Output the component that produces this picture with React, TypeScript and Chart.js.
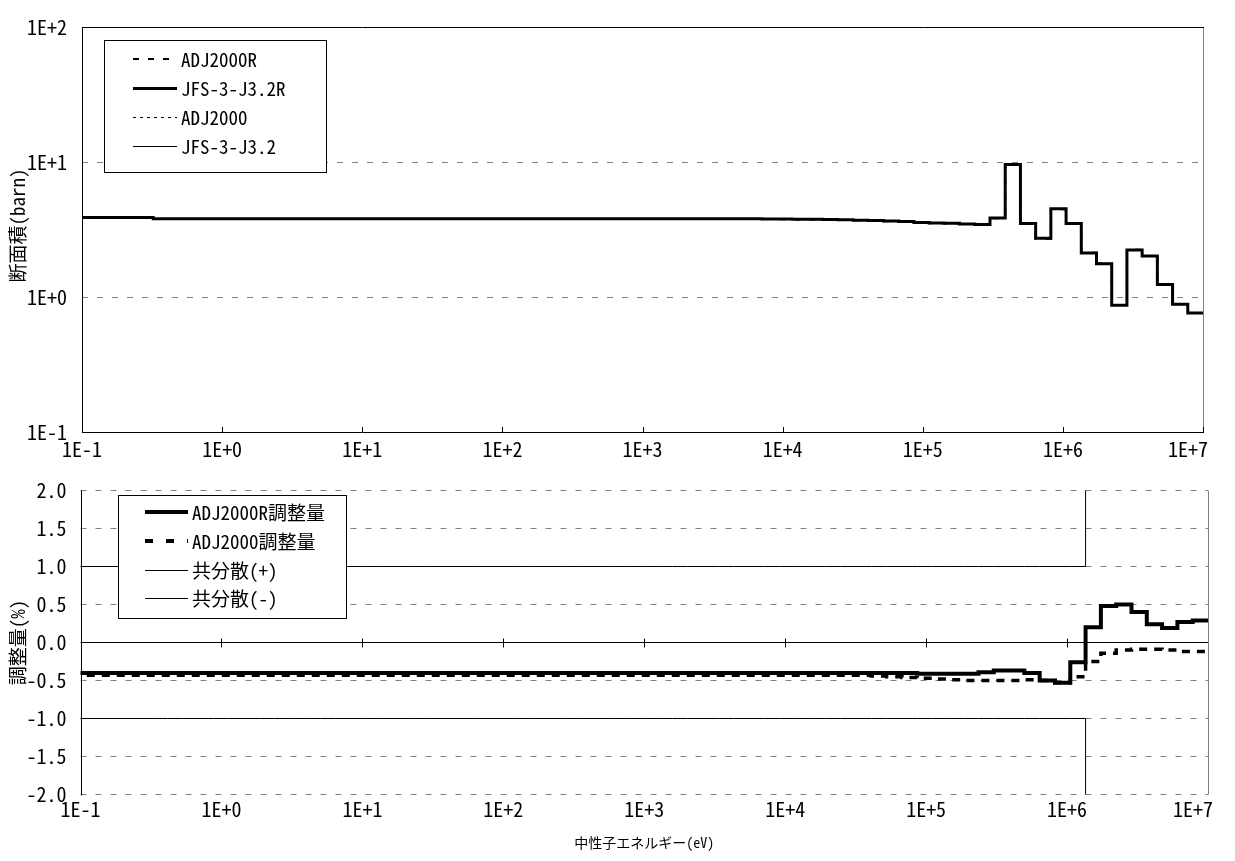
import React, { useEffect, useRef } from "react";
import { Chart, registerables } from "chart.js";

Chart.register(...registerables);

const FONT = '"Noto Sans Mono CJK JP", "Noto Sans CJK JP", "DejaVu Sans", sans-serif';
const TICK_FONT_SIZE = 20;
const LEGEND_FONT_SIZE = 19;
const Y_TITLE_FONT_SIZE = 19;
const X_TITLE_FONT_SIZE = 14;

// JFS-3 70-group energy boundaries (eV), upper edge of group 1 first
const GROUP_EDGES_EV = [
  1.0e7, 7.788e6, 6.0653e6, 4.7237e6, 3.6788e6, 2.865e6, 2.2313e6, 1.7377e6, 1.3534e6, 1.054e6,
  8.2085e5, 6.3928e5, 4.9787e5, 3.8774e5, 3.0197e5, 2.3518e5, 1.8316e5, 1.4264e5, 1.1109e5, 8.6517e4,
  6.7379e4, 5.2475e4, 4.0868e4, 3.1828e4, 2.4788e4, 1.9305e4, 1.5034e4, 1.1709e4, 9118.8, 7101.7,
  5530.8, 4307.4, 3354.6, 2612.6, 2034.7, 1584.6, 1234.1, 961.12, 748.52, 582.95,
  454.0, 353.58, 275.36, 214.45, 167.02, 130.07, 101.3, 78.893, 61.442, 47.851,
  37.267, 29.023, 22.603, 17.604, 13.71, 10.677, 8.3153, 6.476, 5.0435, 3.9279,
  3.059, 2.3824, 1.8554, 1.445, 1.1254, 0.87642, 0.68256, 0.53158, 0.41399, 0.32242,
  1.0e-5,
];

// Group cross sections (barn), group 1 .. 70
const ADJ2000R_XS = [
  0.762, 0.887, 1.242, 2.015, 2.239, 0.874, 1.768, 2.124, 3.491, 4.476,
  2.706, 3.486, 9.564, 3.836, 3.427, 3.466, 3.506, 3.525, 3.555, 3.606,
  3.645, 3.675, 3.695, 3.715, 3.735, 3.745, 3.755, 3.765, 3.775, 3.785,
  3.785, 3.785, 3.785, 3.785, 3.785, 3.785, 3.785, 3.785, 3.785, 3.785,
  3.785, 3.785, 3.785, 3.785, 3.785, 3.785, 3.785, 3.785, 3.785, 3.785,
  3.785, 3.785, 3.785, 3.785, 3.785, 3.785, 3.785, 3.785, 3.785, 3.785,
  3.785, 3.785, 3.785, 3.785, 3.785, 3.785, 3.785, 3.785, 3.785, 3.865,
];
const JFS32R_XS = [
  0.76, 0.885, 1.24, 2.01, 2.23, 0.87, 1.76, 2.12, 3.5, 4.5,
  2.72, 3.5, 9.6, 3.85, 3.44, 3.48, 3.52, 3.54, 3.57, 3.62,
  3.66, 3.69, 3.71, 3.73, 3.75, 3.76, 3.77, 3.78, 3.79, 3.8,
  3.8, 3.8, 3.8, 3.8, 3.8, 3.8, 3.8, 3.8, 3.8, 3.8,
  3.8, 3.8, 3.8, 3.8, 3.8, 3.8, 3.8, 3.8, 3.8, 3.8,
  3.8, 3.8, 3.8, 3.8, 3.8, 3.8, 3.8, 3.8, 3.8, 3.8,
  3.8, 3.8, 3.8, 3.8, 3.8, 3.8, 3.8, 3.8, 3.8, 3.88,
];
const ADJ2000_XS = [
  0.759, 0.884, 1.239, 2.008, 2.228, 0.869, 1.758, 2.115, 3.484, 4.476,
  2.706, 3.483, 9.552, 3.831, 3.423, 3.463, 3.503, 3.523, 3.553, 3.603,
  3.643, 3.673, 3.694, 3.714, 3.734, 3.744, 3.754, 3.764, 3.774, 3.784,
  3.784, 3.784, 3.784, 3.784, 3.784, 3.784, 3.784, 3.784, 3.784, 3.784,
  3.784, 3.784, 3.784, 3.784, 3.784, 3.784, 3.784, 3.784, 3.784, 3.784,
  3.784, 3.784, 3.784, 3.784, 3.784, 3.784, 3.784, 3.784, 3.784, 3.784,
  3.784, 3.784, 3.784, 3.784, 3.784, 3.784, 3.784, 3.784, 3.784, 3.864,
];
const JFS32_XS = [
  0.76, 0.885, 1.24, 2.01, 2.23, 0.87, 1.76, 2.12, 3.5, 4.5,
  2.72, 3.5, 9.6, 3.85, 3.44, 3.48, 3.52, 3.54, 3.57, 3.62,
  3.66, 3.69, 3.71, 3.73, 3.75, 3.76, 3.77, 3.78, 3.79, 3.8,
  3.8, 3.8, 3.8, 3.8, 3.8, 3.8, 3.8, 3.8, 3.8, 3.8,
  3.8, 3.8, 3.8, 3.8, 3.8, 3.8, 3.8, 3.8, 3.8, 3.8,
  3.8, 3.8, 3.8, 3.8, 3.8, 3.8, 3.8, 3.8, 3.8, 3.8,
  3.8, 3.8, 3.8, 3.8, 3.8, 3.8, 3.8, 3.8, 3.8, 3.88,
];

// Adjustment and covariance (%), group 1 .. 70
const ADJ2000R_PCT = [
  0.29, 0.27, 0.19, 0.24, 0.4, 0.5, 0.48, 0.2, -0.26, -0.53,
  -0.5, -0.4, -0.37, -0.37, -0.39, -0.41, -0.41, -0.41, -0.41, -0.4,
  -0.4, -0.4, -0.4, -0.4, -0.4, -0.4, -0.4, -0.4, -0.4, -0.4,
  -0.4, -0.4, -0.4, -0.4, -0.4, -0.4, -0.4, -0.4, -0.4, -0.4,
  -0.4, -0.4, -0.4, -0.4, -0.4, -0.4, -0.4, -0.4, -0.4, -0.4,
  -0.4, -0.4, -0.4, -0.4, -0.4, -0.4, -0.4, -0.4, -0.4, -0.4,
  -0.4, -0.4, -0.4, -0.4, -0.4, -0.4, -0.4, -0.4, -0.4, -0.4,
];
const ADJ2000_PCT = [
  -0.12, -0.12, -0.1, -0.09, -0.09, -0.1, -0.14, -0.25, -0.45, -0.53,
  -0.5, -0.49, -0.5, -0.5, -0.5, -0.5, -0.49, -0.48, -0.47, -0.46,
  -0.45, -0.44, -0.43, -0.43, -0.43, -0.43, -0.43, -0.43, -0.43, -0.43,
  -0.43, -0.43, -0.43, -0.43, -0.43, -0.43, -0.43, -0.43, -0.43, -0.43,
  -0.43, -0.43, -0.43, -0.43, -0.43, -0.43, -0.43, -0.43, -0.43, -0.43,
  -0.43, -0.43, -0.43, -0.43, -0.43, -0.43, -0.43, -0.43, -0.43, -0.43,
  -0.43, -0.43, -0.43, -0.43, -0.43, -0.43, -0.43, -0.43, -0.43, -0.43,
];
const COV_PLUS_PCT = [
  3.0, 3.0, 3.0, 3.0, 3.0, 3.0, 3.0, 3.0, 1.0, 1.0,
  1.0, 1.0, 1.0, 1.0, 1.0, 1.0, 1.0, 1.0, 1.0, 1.0,
  1.0, 1.0, 1.0, 1.0, 1.0, 1.0, 1.0, 1.0, 1.0, 1.0,
  1.0, 1.0, 1.0, 1.0, 1.0, 1.0, 1.0, 1.0, 1.0, 1.0,
  1.0, 1.0, 1.0, 1.0, 1.0, 1.0, 1.0, 1.0, 1.0, 1.0,
  1.0, 1.0, 1.0, 1.0, 1.0, 1.0, 1.0, 1.0, 1.0, 1.0,
  1.0, 1.0, 1.0, 1.0, 1.0, 1.0, 1.0, 1.0, 1.0, 1.0,
];
const COV_MINUS_PCT = [
  -3.0, -3.0, -3.0, -3.0, -3.0, -3.0, -3.0, -3.0, -1.0, -1.0,
  -1.0, -1.0, -1.0, -1.0, -1.0, -1.0, -1.0, -1.0, -1.0, -1.0,
  -1.0, -1.0, -1.0, -1.0, -1.0, -1.0, -1.0, -1.0, -1.0, -1.0,
  -1.0, -1.0, -1.0, -1.0, -1.0, -1.0, -1.0, -1.0, -1.0, -1.0,
  -1.0, -1.0, -1.0, -1.0, -1.0, -1.0, -1.0, -1.0, -1.0, -1.0,
  -1.0, -1.0, -1.0, -1.0, -1.0, -1.0, -1.0, -1.0, -1.0, -1.0,
  -1.0, -1.0, -1.0, -1.0, -1.0, -1.0, -1.0, -1.0, -1.0, -1.0,
];

// Axis ticks and labels
const ENERGY_TICKS = [1e-1, 1e0, 1e1, 1e2, 1e3, 1e4, 1e5, 1e6, 1e7];
const ENERGY_TICK_LABELS = ["1E-1", "1E+0", "1E+1", "1E+2", "1E+3", "1E+4", "1E+5", "1E+6", "1E+7"];
const XS_TICKS = [0.1, 1, 10, 100];
const XS_TICK_LABELS = ["1E-1", "1E+0", "1E+1", "1E+2"];
const PCT_TICKS = [-2, -1.5, -1, -0.5, 0, 0.5, 1, 1.5, 2];

const XS_TITLE = "断面積(barn)";
const PCT_TITLE = "調整量(%)";
const ENERGY_TITLE = "中性子エネルギー(eV)";

const XS_LEGEND = ["ADJ2000R", "JFS-3-J3.2R", "ADJ2000", "JFS-3-J3.2"];
const PCT_LEGEND = ["ADJ2000R調整量", "ADJ2000調整量", "共分散(+)", "共分散(-)"];

type Pt = { x: number; y: number };

// Turn per-group values into step points ordered by increasing energy
function toSteps(values: number[]): Pt[] {
  const pts: Pt[] = [];
  for (let g = values.length - 1; g >= 0; g--) {
    pts.push({ x: GROUP_EDGES_EV[g + 1], y: values[g] });
  }
  pts.push({ x: GROUP_EDGES_EV[0], y: values[0] });
  return pts;
}

function line(ctx: CanvasRenderingContext2D, x1: number, y1: number, x2: number, y2: number) {
  ctx.beginPath();
  ctx.moveTo(x1, y1);
  ctx.lineTo(x2, y2);
  ctx.stroke();
}

type Sample = { width: number; dash: number[] };

function drawLegend(
  ctx: CanvasRenderingContext2D,
  box: { l: number; t: number; r: number; b: number },
  labels: string[],
  samples: Sample[],
  rowY: number[],
  sx1: number,
  sx2: number,
  tx: number
) {
  ctx.save();
  ctx.setLineDash([]);
  ctx.fillStyle = "#fff";
  ctx.fillRect(box.l, box.t, box.r - box.l, box.b - box.t);
  ctx.strokeStyle = "#000";
  ctx.lineWidth = 1;
  ctx.strokeRect(box.l + 0.5, box.t + 0.5, box.r - box.l, box.b - box.t);
  ctx.font = `${LEGEND_FONT_SIZE}px ${FONT}`;
  ctx.textAlign = "left";
  ctx.textBaseline = "middle";
  labels.forEach((label, i) => {
    const s = samples[i];
    const odd = Math.round(s.width) % 2 === 1;
    const ly = Math.round(rowY[i]) + (odd ? 0.5 : 0);
    ctx.lineWidth = s.width;
    ctx.setLineDash(s.dash);
    ctx.lineCap = "butt";
    ctx.strokeStyle = "#000";
    line(ctx, sx1, ly, sx2, ly);
    ctx.setLineDash([]);
    ctx.fillStyle = "#000";
    ctx.fillText(label, tx, rowY[i] + 1);
  });
  ctx.restore();
}

function drawEnergyLabels(chart: any, y: number) {
  const { ctx, scales } = chart;
  const x = scales.x;
  ctx.save();
  ctx.font = `${TICK_FONT_SIZE}px ${FONT}`;
  ctx.fillStyle = "#000";
  ctx.textBaseline = "middle";
  ENERGY_TICKS.forEach((v, i) => {
    const px = x.getPixelForValue(v);
    if (i === ENERGY_TICKS.length - 1) {
      ctx.textAlign = "right";
      ctx.fillText(ENERGY_TICK_LABELS[i], px + 5, y);
    } else {
      ctx.textAlign = "center";
      ctx.fillText(ENERGY_TICK_LABELS[i], px, y);
    }
  });
  ctx.restore();
}

function drawYTitle(ctx: CanvasRenderingContext2D, text: string, x: number, y: number) {
  ctx.save();
  ctx.translate(x, y);
  ctx.rotate(-Math.PI / 2);
  ctx.font = `${Y_TITLE_FONT_SIZE}px ${FONT}`;
  ctx.fillStyle = "#000";
  ctx.textAlign = "center";
  ctx.textBaseline = "middle";
  ctx.fillText(text, 0, 0);
  ctx.restore();
}

const GRID_DASH = [6, 9];

const xsFramePlugin = {
  id: "xsFrame",
  beforeDatasetsDraw(chart: any) {
    const { ctx, chartArea: a, scales } = chart;
    ctx.save();
    ctx.strokeStyle = "#808080";
    ctx.lineWidth = 1;
    ctx.setLineDash(GRID_DASH);
    XS_TICKS.slice(1, -1).forEach((v) => {
      const py = Math.round(scales.y.getPixelForValue(v)) + 0.5;
      line(ctx, a.left, py, a.right, py);
    });
    ctx.restore();
  },
  afterDatasetsDraw(chart: any) {
    const { ctx, chartArea: a, scales } = chart;
    ctx.save();
    ctx.setLineDash([]);
    ctx.lineWidth = 1;
    ctx.strokeStyle = "#808080";
    line(ctx, Math.round(a.right) + 0.5, a.top, Math.round(a.right) + 0.5, a.bottom);
    ctx.strokeStyle = "#000";
    line(ctx, a.left, Math.round(a.top) + 0.5, a.right + 1, Math.round(a.top) + 0.5);
    line(ctx, a.left, Math.round(a.bottom) + 0.5, a.right + 1, Math.round(a.bottom) + 0.5);
    line(ctx, Math.round(a.left) + 0.5, a.top, Math.round(a.left) + 0.5, a.bottom + 1);
    ENERGY_TICKS.forEach((v) => {
      const px = Math.round(scales.x.getPixelForValue(v)) + 0.5;
      line(ctx, px, a.bottom - 5, px, a.bottom);
    });
    ctx.restore();
    drawEnergyLabels(chart, a.bottom + 17);
    drawYTitle(ctx, XS_TITLE, 18, (a.top + a.bottom) / 2 - 4);
    drawLegend(
      ctx,
      { l: 104, t: 40, r: 326, b: 172 },
      XS_LEGEND,
      [
        { width: 2, dash: [6, 9] },
        { width: 3, dash: [] },
        { width: 1, dash: [3, 4] },
        { width: 1, dash: [] },
      ],
      [59, 88, 117, 146],
      133,
      177,
      181
    );
  },
};

const pctFramePlugin = {
  id: "pctFrame",
  beforeDatasetsDraw(chart: any) {
    const { ctx, chartArea: a, scales } = chart;
    ctx.save();
    ctx.strokeStyle = "#808080";
    ctx.lineWidth = 1;
    ctx.setLineDash(GRID_DASH);
    PCT_TICKS.forEach((v) => {
      if (v === 0) return;
      const py = Math.floor(scales.y.getPixelForValue(v)) + 0.5;
      line(ctx, a.left, py, a.right, py);
    });
    ctx.setLineDash([]);
    ctx.strokeStyle = "#000";
    const y0 = Math.floor(scales.y.getPixelForValue(0)) + 0.5;
    line(ctx, a.left, y0, a.right, y0);
    ENERGY_TICKS.forEach((v) => {
      const px = Math.round(scales.x.getPixelForValue(v)) + 0.5;
      line(ctx, px, y0 - 4, px, y0 + 5);
    });
    ctx.restore();
  },
  afterDatasetsDraw(chart: any) {
    const { ctx, chartArea: a } = chart;
    ctx.save();
    ctx.setLineDash([]);
    ctx.lineWidth = 1;
    ctx.strokeStyle = "#808080";
    line(ctx, Math.round(a.right) + 0.5, a.top, Math.round(a.right) + 0.5, a.bottom);
    ctx.strokeStyle = "#000";
    line(ctx, Math.round(a.left) + 0.5, a.top, Math.round(a.left) + 0.5, a.bottom + 1);
    ctx.restore();
    drawEnergyLabels(chart, a.bottom + 15);
    drawYTitle(ctx, PCT_TITLE, 18, (a.top + a.bottom) / 2);
    ctx.save();
    ctx.font = `${X_TITLE_FONT_SIZE}px ${FONT}`;
    ctx.fillStyle = "#000";
    ctx.textAlign = "center";
    ctx.textBaseline = "middle";
    ctx.fillText(ENERGY_TITLE, (a.left + a.right) / 2, a.bottom + 48);
    ctx.restore();
    drawLegend(
      ctx,
      { l: 118, t: 35, r: 346, b: 158 },
      PCT_LEGEND,
      [
        { width: 4, dash: [] },
        { width: 4, dash: [8, 13] },
        { width: 1, dash: [] },
        { width: 1, dash: [] },
      ],
      [52, 81, 110, 138],
      145,
      188,
      192
    );
  },
};

const tickFont = { family: FONT, size: TICK_FONT_SIZE };

function energyAxis(height: number) {
  return {
    type: "logarithmic" as const,
    min: 0.1,
    max: 1e7,
    afterBuildTicks: (scale: any) => {
      scale.ticks = ENERGY_TICKS.map((v) => ({ value: v }));
    },
    afterFit: (scale: any) => {
      scale.height = height;
    },
    ticks: { display: false },
    grid: { display: false, drawTicks: false },
    border: { display: false },
  };
}

export default function App() {
  const topRef = useRef<HTMLCanvasElement>(null);
  const bottomRef = useRef<HTMLCanvasElement>(null);

  useEffect(() => {
    const xsChart = new Chart(topRef.current as HTMLCanvasElement, {
      type: "line",
      data: {
        datasets: [
          { label: XS_LEGEND[1], data: toSteps(JFS32R_XS), borderColor: "#000", borderWidth: 3 },
          { label: XS_LEGEND[3], data: toSteps(JFS32_XS), borderColor: "#000", borderWidth: 1 },
          { label: XS_LEGEND[0], data: toSteps(ADJ2000R_XS), borderColor: "#000", borderWidth: 2, borderDash: [6, 9] },
          { label: XS_LEGEND[2], data: toSteps(ADJ2000_XS), borderColor: "#000", borderWidth: 1, borderDash: [3, 4] },
        ].map((d) => ({ ...d, stepped: true, pointRadius: 0, fill: false })),
      },
      options: {
        responsive: false,
        animation: false,
        layout: { padding: { top: 20, right: 32, left: 0, bottom: 0 } },
        plugins: { legend: { display: false }, tooltip: { enabled: false } },
        scales: {
          x: energyAxis(28),
          y: {
            type: "logarithmic",
            min: 0.1,
            max: 100,
            afterBuildTicks: (scale: any) => {
              scale.ticks = XS_TICKS.map((v) => ({ value: v }));
            },
            afterFit: (scale: any) => {
              scale.width = 82;
            },
            ticks: {
              font: tickFont,
              color: "#000",
              padding: 15,
              callback: (v: any) => XS_TICK_LABELS[XS_TICKS.indexOf(Number(v))],
            },
            grid: { display: false, drawTicks: false },
            border: { display: false },
          },
        },
      },
      plugins: [xsFramePlugin],
    } as any);

    const pctChart = new Chart(bottomRef.current as HTMLCanvasElement, {
      type: "line",
      data: {
        datasets: [
          { label: PCT_LEGEND[0], data: toSteps(ADJ2000R_PCT), borderColor: "#000", borderWidth: 4 },
          { label: PCT_LEGEND[1], data: toSteps(ADJ2000_PCT), borderColor: "#000", borderWidth: 3.5, borderDash: [8, 7] },
          { label: PCT_LEGEND[2], data: toSteps(COV_PLUS_PCT), borderColor: "#000", borderWidth: 1 },
          { label: PCT_LEGEND[3], data: toSteps(COV_MINUS_PCT), borderColor: "#000", borderWidth: 1 },
        ].map((d) => ({ ...d, stepped: true, pointRadius: 0, fill: false })),
      },
      options: {
        responsive: false,
        animation: false,
        layout: { padding: { top: 30.5, right: 27, left: 0, bottom: 0 } },
        plugins: { legend: { display: false }, tooltip: { enabled: false } },
        scales: {
          x: energyAxis(66.5),
          y: {
            type: "linear",
            min: -2,
            max: 2,
            afterBuildTicks: (scale: any) => {
              scale.ticks = PCT_TICKS.map((v) => ({ value: v }));
            },
            afterFit: (scale: any) => {
              scale.width = 80.5;
            },
            ticks: {
              font: tickFont,
              color: "#000",
              padding: 14,
              callback: (v: any) => Number(v).toFixed(1),
            },
            grid: { display: false, drawTicks: false },
            border: { display: false },
          },
        },
      },
      plugins: [pctFramePlugin],
    } as any);

    return () => {
      xsChart.destroy();
      pctChart.destroy();
    };
  }, []);

  return (
    <div style={{ position: "absolute", left: 0, top: 0, width: 1235, height: 861, background: "#fff" }}>
      <canvas ref={topRef} width={1235} height={460} style={{ position: "absolute", left: 0, top: 0 }} />
      <canvas ref={bottomRef} width={1235} height={401} style={{ position: "absolute", left: 0, top: 460 }} />
    </div>
  );
}
